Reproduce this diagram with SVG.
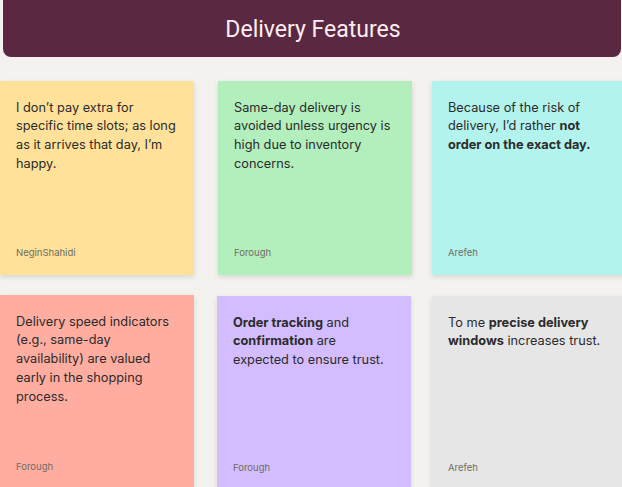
<svg xmlns="http://www.w3.org/2000/svg" width="622" height="487" viewBox="0 0 622 487">
<style>
.bg{fill:#f3f2ef}
.card{filter:url(#sh)}
.t{font-family:Inter,"Noto Sans",sans-serif;font-size:12.75px;fill:#2b2b2b}
.b{font-weight:700}
.a{font-family:Inter,"Noto Sans",sans-serif;font-size:9.5px;fill:#716c62}
.title{font-family:Roboto,"Liberation Sans",sans-serif;font-size:23px;fill:#fdeef0;text-anchor:middle}
</style>
<defs>
<filter id="sh" x="-10%" y="-10%" width="120%" height="125%">
<feDropShadow dx="0" dy="2" stdDeviation="2.5" flood-color="#000" flood-opacity="0.12"/>
</filter>
</defs>
<rect class="bg" x="0" y="0" width="622" height="487"/>
<g id="header">
<rect x="3" y="-10" width="618" height="67" rx="8" fill="#5b2842"/>
<text class="title" x="313" y="37">Delivery Features</text>
</g>
<g id="card1">
<rect class="card" x="0" y="81" width="194" height="194" fill="#ffe199"/>
<text class="t" x="16" y="111.5">I don’t pay extra for</text>
<text class="t" x="16" y="130.4">specific time slots; as long</text>
<text class="t" x="16" y="149.3">as it arrives that day, I’m</text>
<text class="t" x="16" y="168.2">happy.</text>
<text class="a" x="16" y="256">NeginShahidi</text>
</g>
<g id="card2">
<rect class="card" x="218" y="81" width="194" height="194" fill="#b2efbd"/>
<text class="t" x="234" y="111.5">Same-day delivery is</text>
<text class="t" x="234" y="130.4">avoided unless urgency is</text>
<text class="t" x="234" y="149.3">high due to inventory</text>
<text class="t" x="234" y="168.2">concerns.</text>
<text class="a" x="234" y="256">Forough</text>
</g>
<g id="card3">
<rect class="card" x="432" y="81" width="194" height="194" fill="#b3f3ed"/>
<text class="t" x="448" y="111.5">Because of the risk of</text>
<text class="t" x="448" y="130.4">delivery, I’d rather <tspan class="b">not</tspan></text>
<text class="t b" x="448" y="149.3">order on the exact day.</text>
<text class="a" x="448" y="256">Arefeh</text>
</g>
<g id="card4">
<rect class="card" x="0" y="295" width="194" height="200" fill="#ffada0"/>
<text class="t" x="16" y="325.5">Delivery speed indicators</text>
<text class="t" x="16" y="344.4">(e.g., same-day</text>
<text class="t" x="16" y="363.3">availability) are valued</text>
<text class="t" x="16" y="382.2">early in the shopping</text>
<text class="t" x="16" y="401.1">process.</text>
<text class="a" x="16" y="470">Forough</text>
</g>
<g id="card5">
<rect class="card" x="217" y="296" width="194" height="200" fill="#d3bdff"/>
<text class="t" x="233" y="326.5"><tspan class="b">Order tracking</tspan> and</text>
<text class="t" x="233" y="345.4"><tspan class="b">confirmation</tspan> are</text>
<text class="t" x="233" y="364.3">expected to ensure trust.</text>
<text class="a" x="233" y="471">Forough</text>
</g>
<g id="card6">
<rect class="card" x="432" y="296" width="194" height="200" fill="#e6e6e6"/>
<text class="t" x="448" y="326.5">To me <tspan class="b">precise delivery</tspan></text>
<text class="t" x="448" y="345.4"><tspan class="b">windows</tspan> increases trust.</text>
<text class="a" x="448" y="471">Arefeh</text>
</g>
<g id="connectors"/>
</svg>
